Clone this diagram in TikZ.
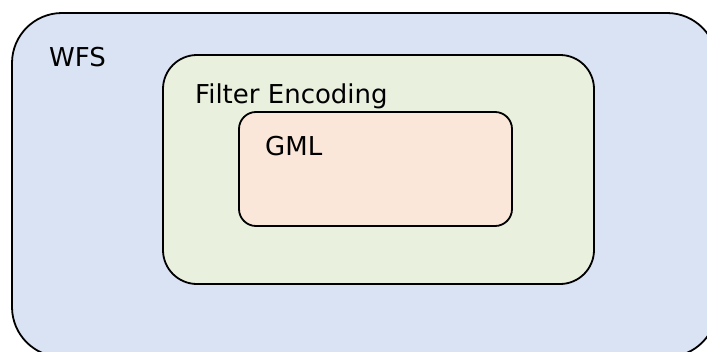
\documentclass[tikz,border=0pt]{standalone}
\usepackage{fontspec}
\setmainfont{DejaVu Sans}
\definecolor{wfsblue}{HTML}{DAE3F3}
\definecolor{fegreen}{HTML}{E9F0DD}
\definecolor{gmlorange}{HTML}{FBE7D9}
\tikzset{
  box/.style={draw=black, line width=1.8pt},
  lbl/.style={anchor=base west, inner sep=0pt, font=\fontsize{26}{30}\selectfont}
}
\begin{document}
\begin{tikzpicture}[x=1pt,y=-1pt]
\useasboundingbox (0,0) rectangle (707,351);
\begin{scope}
\clip (0,0) rectangle (707,351);
\draw[box, fill=wfsblue, rounded corners=50pt] (12,13) rectangle (717,357);
\end{scope}
\draw[box, fill=fegreen, rounded corners=34pt] (163,55) rectangle (594,284);
\draw[box, fill=gmlorange, rounded corners=17pt] (239,112) rectangle (512,226);
\node[lbl] (wfs) at (49,66) {WFS};
\node[lbl] (fe) at (195,103) {Filter Encoding};
\node[lbl] (gml) at (265,155) {GML};
\end{tikzpicture}
\end{document}
